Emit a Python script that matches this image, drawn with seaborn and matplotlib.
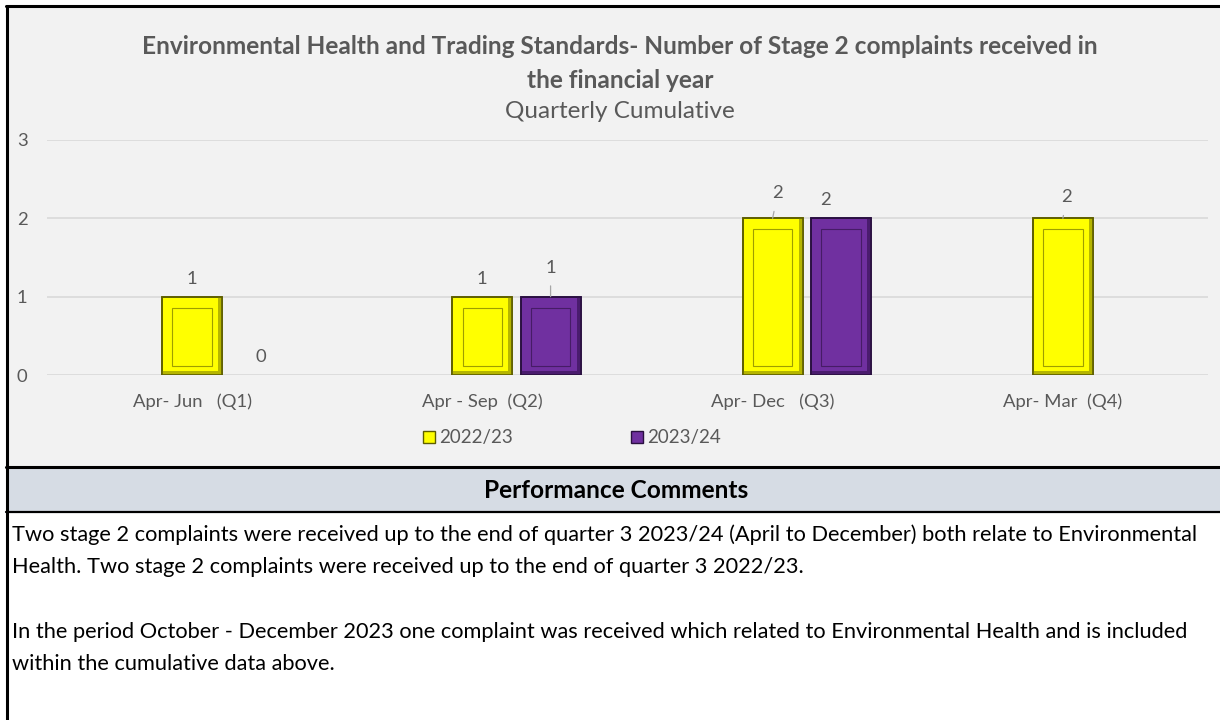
import numpy as np
import pandas as pd
import matplotlib.pyplot as plt
import matplotlib.colors as mcolors
import seaborn as sns
from matplotlib.patches import Rectangle
from matplotlib.lines import Line2D

# chart data
quarters = ['Apr- Jun   (Q1)', 'Apr - Sep  (Q2)', 'Apr- Dec   (Q3)', 'Apr- Mar  (Q4)']
years = ['2022/23', '2023/24']
complaints_2022_23 = [1, 1, 2, 2]
complaints_2023_24 = [0, 1, 2, np.nan]

title_lines = ['Environmental Health and Trading Standards- Number of Stage 2 complaints received in',
               'the financial year']
subtitle = 'Quarterly Cumulative'
comments_header = 'Performance Comments'
comments = [
    'Two stage 2 complaints were received up to the end of quarter 3 2023/24 (April to December) both relate to Environmental',
    'Health. Two stage 2 complaints were received up to the end of quarter 3 2022/23.',
    '',
    'In the period October - December 2023 one complaint was received which related to Environmental Health and is included',
    'within the cumulative data above.',
]

df = pd.DataFrame({
    'quarter': quarters * 2,
    'year': [years[0]] * 4 + [years[1]] * 4,
    'complaints': complaints_2022_23 + complaints_2023_24,
})

# the source chart keeps an empty first series slot, which pushes the bars right of the ticks
blank = ' '
hue_levels = [blank] + years
fills = {blank: '#ffffff', '2022/23': '#ffff00', '2023/24': '#7030a0'}
edges = {'2022/23': '#5e5e00', '2023/24': '#2a1040'}
shades = {'2022/23': '#b5b500', '2023/24': '#4a1c6e'}
grey = '#595959'

# label nudges (pixels right, pixels up) and which labels get a leader line
label_nudge = {('2023/24', 1): (0, 11), ('2022/23', 2): (5, 7), ('2023/24', 2): (-15, 0),
               ('2022/23', 3): (4, 3)}
leader = {('2023/24', 1), ('2022/23', 2), ('2022/23', 3)}

sns.set_style('white')
plt.rcParams['font.family'] = ['Lato', 'DejaVu Sans']

W, H = 1220, 720
fig = plt.figure(figsize=(W / 100, H / 100), dpi=100)

def fx(px):
    return px / W

def fy(py):
    return 1 - py / H

# chart panel background and header band
fig.patches.append(Rectangle((fx(6), fy(467)), fx(1214), fy(6) - fy(467),
                             transform=fig.transFigure, facecolor='#f2f2f2',
                             edgecolor='none', zorder=-2))
fig.patches.append(Rectangle((fx(6), fy(512)), fx(1214), fy(468) - fy(512),
                             transform=fig.transFigure, facecolor='#d6dce4',
                             edgecolor='none', zorder=-2))
for yy, lw in [(6, 2.2), (467, 2.2), (512, 1.6)]:
    fig.lines.append(Line2D([fx(6), 1], [fy(yy), fy(yy)], transform=fig.transFigure,
                            color='black', lw=lw, zorder=-1))
fig.lines.append(Line2D([fx(7), fx(7)], [0, fy(6)], transform=fig.transFigure,
                        color='black', lw=2.2, zorder=-1))

ax = fig.add_axes([fx(47), fy(375), fx(1208) - fx(47), fy(140) - fy(375)])
ax.set_facecolor('none')

sns.barplot(data=df, x='quarter', y='complaints', hue='year', order=quarters,
            hue_order=hue_levels, palette=fills, width=0.705, gap=0.12, ax=ax,
            legend=False, linewidth=1.2, errorbar=None, saturation=1)

ax.set_ylim(0, 3)
ax.set_xlim(-0.5, 3.5)
ax.set_yticks([0, 1, 2, 3])
ax.yaxis.grid(True, color='#d9d9d9', lw=1.2)
ax.set_axisbelow(True)
for s in ax.spines.values():
    s.set_visible(False)
ax.tick_params(axis='both', length=0, labelsize=13.3, labelcolor=grey)
ax.tick_params(axis='x', pad=13)
ax.tick_params(axis='y', pad=14)
ax.set_xlabel('')
ax.set_ylabel('')

# bevel-like styling and value labels
colour_to_year = {mcolors.to_hex(fills[y]): y for y in years}
ppx = (fx(1208) - fx(47)) * W / 4  # pixels per category
ppy = (fy(140) - fy(375)) * H / 3  # pixels per unit
for bar in list(ax.patches):
    yr = colour_to_year.get(mcolors.to_hex(bar.get_facecolor()))
    h = bar.get_height()
    if yr is None or not np.isfinite(h):
        continue
    bar.set_edgecolor(edges[yr])
    bar.set_linewidth(1.2)
    x0, w = bar.get_x(), bar.get_width()
    qi = int(round(x0 + w / 2))
    if h > 0:
        # darker right and bottom bevel strips
        sx, sy = 4 / ppx, 4 / ppy
        ax.add_patch(Rectangle((x0 + w - sx, 0), sx, h, facecolor=shades[yr],
                               edgecolor='none', zorder=2.5))
        ax.add_patch(Rectangle((x0, 0), w, sy, facecolor=shades[yr],
                               edgecolor='none', zorder=2.5))
        dx = w * 0.17
        dy = 10 / ppy
        ax.add_patch(Rectangle((x0 + dx, dy * 0.9), w - 2 * dx, h - 2 * dy,
                               facecolor='none', edgecolor=edges[yr],
                               lw=0.8, alpha=0.6, zorder=3))
        ax.add_patch(Rectangle((x0, 0), w, h, facecolor='none',
                               edgecolor=edges[yr], lw=1.2, zorder=3))
    else:
        bar.set_linewidth(0)
    nx, ny = label_nudge.get((yr, qi), (0, 0))
    arrow = None
    if (yr, qi) in leader:
        arrow = dict(arrowstyle='-', color='#a6a6a6', lw=0.9, shrinkA=5, shrinkB=0)
    ax.annotate(f'{h:.0f}', xy=(x0 + w / 2, h), xytext=(nx * 0.72, (18 + ny) * 0.72),
                textcoords='offset points', ha='center', va='center',
                fontsize=13.3, color=grey, arrowprops=arrow)

# titles
for i, line in enumerate(title_lines):
    fig.text(fx(620), fy(46 + 34 * i), line, ha='center', va='center',
             fontsize=17.6, fontweight='bold', color=grey)
fig.text(fx(620), fy(112), subtitle, ha='center', va='center', fontsize=17.5, color=grey)

# legend
handles = [Rectangle((0, 0), 1, 1, facecolor=fills[y], edgecolor=edges[y]) for y in years]
fig.legend(handles, years, loc='center', bbox_to_anchor=(fx(572), fy(438)), ncol=2,
           frameon=False, fontsize=13.5, labelcolor=grey, handlelength=0.65,
           handleheight=0.65, handletextpad=0.2, columnspacing=6.3)

# comments section
fig.text(fx(616), fy(491), comments_header, ha='center', va='center',
         fontsize=17.6, fontweight='bold', color='black')
for i, line in enumerate(comments):
    fig.text(fx(12), fy(535 + i * 32.3), line, ha='left', va='center',
             fontsize=15.7, color='black')

fig.savefig('out.png', dpi=100)
